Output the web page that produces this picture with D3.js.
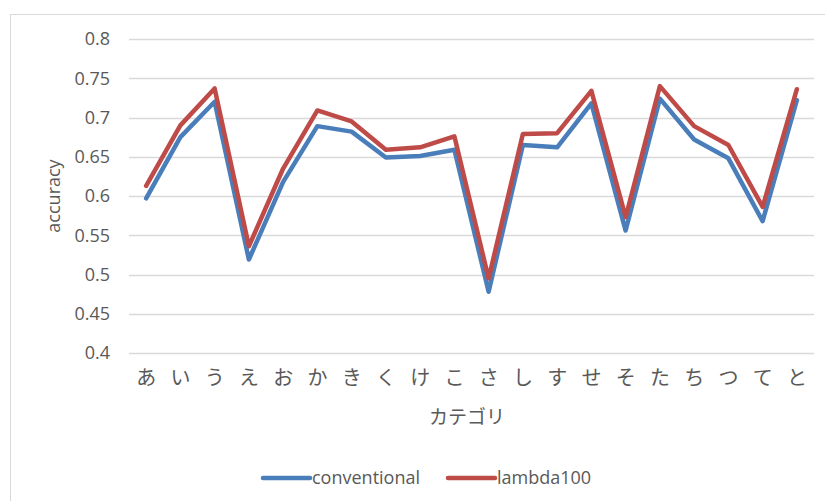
<!DOCTYPE html>
<html><head><meta charset="utf-8">
<script src="https://cdn.jsdelivr.net/npm/d3@7"></script>
<style>body{margin:0;background:#fff;}svg{display:block;font-family:"Open Sans","DejaVu Sans",sans-serif;}</style>
</head><body><div id="c"></div>
<script>
const categories = ["あ","い","う","え","お","か","き","く","け","こ","さ","し","す","せ","そ","た","ち","つ","て","と"];
const conventional = [0.597,0.675,0.720,0.519,0.618,0.689,0.682,0.649,0.651,0.659,0.478,0.665,0.662,0.718,0.556,0.724,0.672,0.648,0.568,0.722];
const lambda100 = [0.613,0.690,0.737,0.536,0.635,0.709,0.695,0.659,0.662,0.676,0.495,0.679,0.680,0.734,0.573,0.740,0.689,0.665,0.586,0.736];
const yTicks = [0.4,0.45,0.5,0.55,0.6,0.65,0.7,0.75,0.8];
const seriesNames = ["conventional","lambda100"];
const colors = ["#4A7EBB","#BE4B48"];

const W=825,H=501;
const svg=d3.select("#c").append("svg").attr("width",W).attr("height",H);
svg.append("rect").attr("x",10.5).attr("y",14.5).attr("width",W).attr("height",H).attr("fill","#fff").attr("stroke","#d9d9d9");

const x=d3.scaleBand().domain(categories).range([129,814]);
const y=d3.scaleLinear().domain([0.4,0.8]).range([353,39]);

svg.append("g").selectAll("line").data(yTicks).join("line")
  .attr("x1",129).attr("x2",814).attr("y1",d=>Math.round(y(d))+0.5).attr("y2",d=>Math.round(y(d))+0.5)
  .attr("stroke","#d9d9d9").attr("stroke-width",1.3);

const ya=svg.append("g").attr("transform","translate(120,0)")
  .call(d3.axisLeft(y).tickValues(yTicks).tickSize(0).tickPadding(10).tickFormat(d=>String(+d.toFixed(2))));
ya.select(".domain").remove();
ya.selectAll("text").attr("fill","#595959").style("font-size","18px").attr("font-family","'Open Sans','DejaVu Sans',sans-serif");

const xa=svg.append("g").attr("transform","translate(0,367)")
  .call(d3.axisBottom(x).tickSize(0).tickPadding(4));
xa.select(".domain").remove();
xa.selectAll("text").attr("fill","#595959").style("font-size","20px").attr("font-family","'Noto Sans CJK JP',sans-serif");

svg.append("text").attr("x",467).attr("y",424).attr("text-anchor","middle").attr("fill","#595959")
  .style("font-size","19px").attr("font-family","'Noto Sans CJK JP',sans-serif").text("カテゴリ");
svg.append("text").attr("transform","translate(60,196) rotate(-90)").attr("text-anchor","middle").attr("fill","#595959")
  .style("font-size","18px").text("accuracy");

const line=d3.line().x((d,i)=>x(categories[i])+x.bandwidth()/2).y(d=>y(d));
[conventional,lambda100].forEach((s,k)=>{
  svg.append("path").datum(s).attr("d",line).attr("fill","none").attr("stroke",colors[k])
    .attr("stroke-width",4.5).attr("stroke-linejoin","round").attr("stroke-linecap","round");
});

const leg=[{x1:263,x2:310,tx:312},{x1:448,x2:495,tx:497}];
seriesNames.forEach((n,k)=>{
  svg.append("line").attr("x1",leg[k].x1).attr("x2",leg[k].x2).attr("y1",478).attr("y2",478)
    .attr("stroke",colors[k]).attr("stroke-width",4.5).attr("stroke-linecap","round");
  svg.append("text").attr("x",leg[k].tx).attr("y",484).attr("fill","#595959").style("font-size","18px").text(n);
});
</script></body></html>
